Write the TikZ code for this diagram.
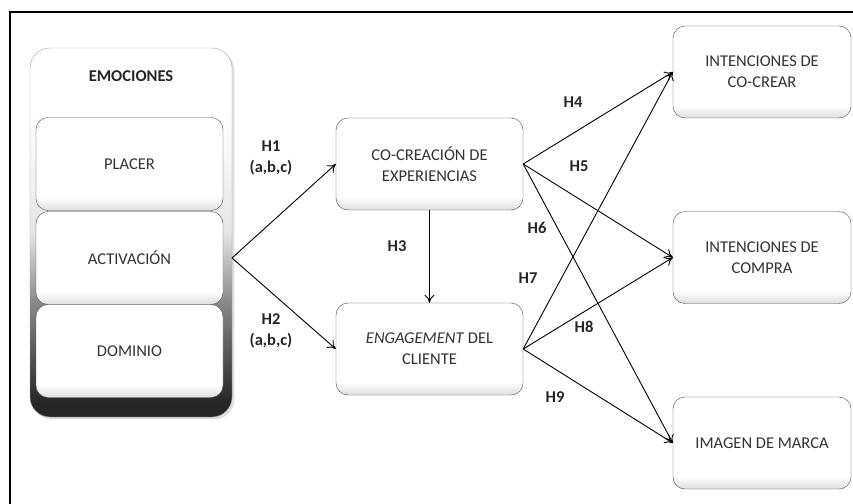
\documentclass[tikz,border=0pt]{standalone}
\usepackage{fontspec}
\setmainfont{Carlito}
\usetikzlibrary{arrows.meta,shadows}
\pgfdeclareverticalshading{emoshade}{100bp}{color(0bp)=(black!90); color(27bp)=(black!85); color(41bp)=(black!45); color(50bp)=(black!10); color(66bp)=(white); color(100bp)=(white)}
\pgfdeclareverticalshading{boxshade}{100bp}{color(0bp)=(black!13); color(25bp)=(black!13); color(32bp)=(white); color(100bp)=(white)}
\tikzset{
  box/.style={draw=black!70, rounded corners=12pt, shading=boxshade, text=black!80,
    minimum width=187pt, minimum height=92pt, align=center, inner sep=2pt,
    font=\fontsize{16.5}{21}\selectfont},
  inbox/.style={box, minimum width=187pt, minimum height=93pt},
  hlabel/.style={font=\fontsize{16.5}{21}\selectfont\bfseries, text=black!85, align=center},
  arrow/.style={-{To[length=8pt,width=10pt]}, line width=0.9pt},
}

\begin{document}
\begin{tikzpicture}[x=1pt,y=-1pt]
  \useasboundingbox (0,0) rectangle (853,503);
  \fill[white] (0,0) rectangle (853,503);
  % Frame
  \draw[line width=1.3pt] (10,520) -- (10,12) -- (870,12);

  % Emotions column
  \path[draw=black!35, shading=emoshade, rounded corners=20pt, drop shadow={opacity=0.25}]
    (30,48) rectangle (232,417);
  \node[hlabel] (emotit) at (131,76) {EMOCIONES};
  \node[inbox] (placer) at (129.5,164) {PLACER};
  \node[inbox] (act) at (129.5,258) {ACTIVACIÓN};
  \node[inbox] (dom) at (129.5,351) {DOMINIO};
  \coordinate (emo) at (232,258);

  % Middle
  \node[box] (cocrea) at (429.5,164) {CO-CREACIÓN DE\\EXPERIENCIAS};
  \node[box] (engage) at (429.5,349) {\textit{ENGAGEMENT} DEL\\CLIENTE};

  % Outcomes
  \node[box, minimum width=178pt] (intcc) at (762,72) {INTENCIONES DE\\CO-CREAR};
  \node[box, minimum width=178pt] (intco) at (762,257.5) {INTENCIONES DE\\COMPRA};
  \node[box, minimum width=178pt] (imagen) at (762,443) {IMAGEN DE MARCA};

  % Paths
  \draw[arrow] (emo) -- (cocrea.west);
  \draw[arrow] (emo) -- (engage.west);
  \draw[arrow] (cocrea.south) -- (engage.north);
  \draw[arrow] (cocrea.east) -- (intcc.west);
  \draw[arrow] (cocrea.east) -- (intco.west);
  \draw[arrow] (cocrea.east) -- (imagen.west);
  \draw[arrow] (engage.east) -- (intcc.west);
  \draw[arrow] (engage.east) -- (intco.west);
  \draw[arrow] (engage.east) -- (imagen.west);

  % Hypotheses
  \node[hlabel] (h1) at (271,158) {H1\\(a,b,c)};
  \node[hlabel] (h2) at (271,331) {H2\\(a,b,c)};
  \node[hlabel] (h3) at (397,246) {H3};
  \node[hlabel] (h4) at (573,102) {H4};
  \node[hlabel] (h5) at (579,166) {H5};
  \node[hlabel] (h6) at (537,228) {H6};
  \node[hlabel] (h7) at (528,278) {H7};
  \node[hlabel] (h8) at (584,327) {H8};
  \node[hlabel] (h9) at (555,397) {H9};
\end{tikzpicture}
\end{document}
